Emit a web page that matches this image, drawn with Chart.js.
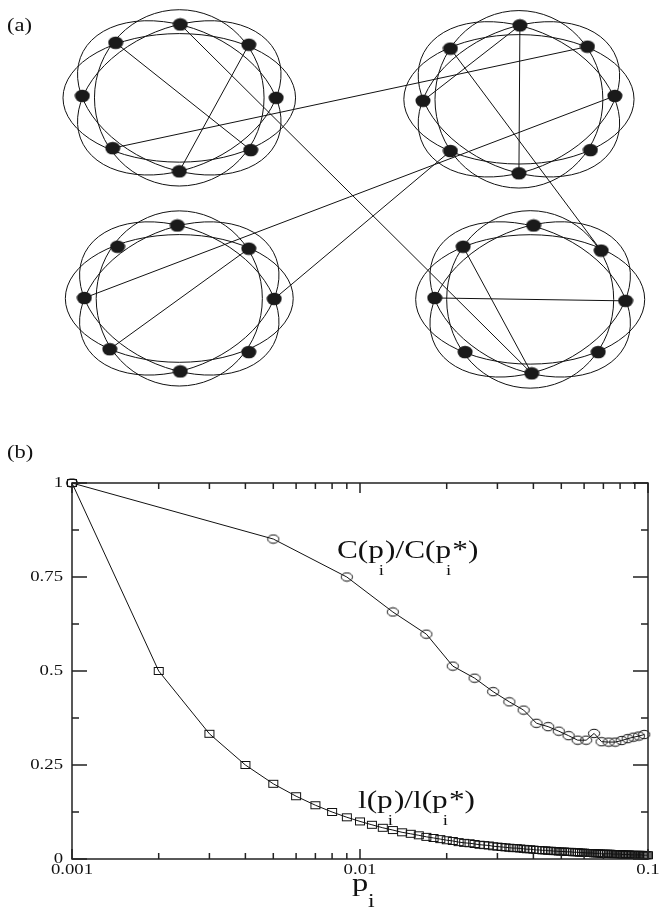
<!DOCTYPE html>
<html>
<head>
<meta charset="utf-8">
<script src="https://cdn.jsdelivr.net/npm/chart.js@4.4.1/dist/chart.umd.min.js"></script>
<style>
  html, body { margin: 0; padding: 0; background: #fff; }
  #wrap { position: relative; width: 661px; height: 911px; }
  canvas { position: absolute; left: 0; }
  #net { top: 0; }
  #plot { top: 420px; }
</style>
</head>
<body>
<div id="wrap">
  <canvas id="net" width="661" height="420"></canvas>
  <canvas id="plot" width="661" height="491"></canvas>
</div>
<script>
// ---- panel (a): the four rings, nodes listed right, UR, top, UL, left, LL, bottom, LR
const ringTL = [[275, 94], [247, 39], [177, 18], [111, 37], [77, 92], [108, 146], [176, 170], [249, 148]];
const ringTR = [[621, 92], [593, 41], [524, 19], [453, 43], [425, 97], [453, 149], [523, 172], [596, 148]];
const ringBL = [[273, 302], [247, 250], [174, 226], [113, 248], [79, 301], [105, 354], [177, 377], [247, 357]];
const ringBR = [[632, 304], [607, 252], [538, 226], [466, 248], [437, 301], [468, 357], [536, 379], [604, 357]];
const rings = [ringTL, ringTR, ringBL, ringBR];

// rewired links: [ring, node] -> [ring, node]
const links = [
  [[0, 3], [0, 7]], [[0, 1], [0, 6]], [[0, 2], [3, 6]], [[0, 5], [1, 1]],
  [[1, 2], [1, 6]], [[1, 2], [1, 4]], [[1, 3], [3, 1]], [[1, 0], [2, 4]], [[1, 5], [2, 0]],
  [[2, 1], [2, 5]],
  [[3, 3], [3, 6]], [[3, 4], [3, 0]]
];

// ---- panel (b)
const pC = [0.001, 0.005, 0.009, 0.013, 0.017, 0.021, 0.025, 0.029, 0.033, 0.037, 0.041, 0.045, 0.049,
  0.053, 0.057, 0.061, 0.065, 0.069, 0.073, 0.077, 0.081, 0.085, 0.089, 0.093, 0.097];
const cRatio = [1, 0.851, 0.75, 0.657, 0.598, 0.513, 0.481, 0.445, 0.418, 0.396, 0.361, 0.352, 0.340,
  0.328, 0.316, 0.316, 0.334, 0.312, 0.311, 0.311, 0.315, 0.320, 0.324, 0.327, 0.331];

const pL = [0.001, 0.002, 0.003, 0.004, 0.005, 0.006, 0.007, 0.008, 0.009, 0.010,
  0.011, 0.012, 0.013, 0.014, 0.015, 0.016, 0.017, 0.018, 0.019, 0.020,
  0.021, 0.022, 0.023, 0.024, 0.025, 0.026, 0.027, 0.028, 0.029, 0.030,
  0.031, 0.032, 0.033, 0.034, 0.035, 0.036, 0.037, 0.038, 0.039, 0.040,
  0.041, 0.042, 0.043, 0.044, 0.045, 0.046, 0.047, 0.048, 0.049, 0.050,
  0.051, 0.052, 0.053, 0.054, 0.055, 0.056, 0.057, 0.058, 0.059, 0.060,
  0.061, 0.062, 0.063, 0.064, 0.065, 0.066, 0.067, 0.068, 0.069, 0.070,
  0.071, 0.072, 0.073, 0.074, 0.075, 0.076, 0.077, 0.078, 0.079, 0.080,
  0.081, 0.082, 0.083, 0.084, 0.085, 0.086, 0.087, 0.088, 0.089, 0.090,
  0.091, 0.092, 0.093, 0.094, 0.095, 0.096, 0.097, 0.098, 0.099, 0.100];
const lRatio = [1, 0.500, 0.333, 0.250, 0.200, 0.167, 0.143, 0.125, 0.111, 0.100,
  0.091, 0.083, 0.077, 0.071, 0.067, 0.063, 0.059, 0.056, 0.053, 0.050,
  0.048, 0.045, 0.043, 0.042, 0.040, 0.038, 0.037, 0.036, 0.034, 0.033,
  0.032, 0.031, 0.030, 0.029, 0.029, 0.028, 0.027, 0.026, 0.026, 0.025,
  0.024, 0.024, 0.023, 0.023, 0.022, 0.022, 0.021, 0.021, 0.020, 0.020,
  0.020, 0.019, 0.019, 0.019, 0.018, 0.018, 0.018, 0.017, 0.017, 0.017,
  0.016, 0.016, 0.016, 0.016, 0.015, 0.015, 0.015, 0.015, 0.014, 0.014,
  0.014, 0.014, 0.014, 0.014, 0.013, 0.013, 0.013, 0.013, 0.013, 0.013,
  0.012, 0.012, 0.012, 0.012, 0.012, 0.012, 0.011, 0.011, 0.011, 0.011,
  0.011, 0.011, 0.011, 0.011, 0.011, 0.010, 0.010, 0.010, 0.010, 0.010];

const xTicks = [0.001, 0.01, 0.1];
const xTickLabels = ['0.001', '0.01', '0.1'];
const xMinor = [0.002, 0.003, 0.004, 0.005, 0.006, 0.007, 0.008, 0.009,
  0.02, 0.03, 0.04, 0.05, 0.06, 0.07, 0.08, 0.09];
const yTicks = [0, 0.25, 0.5, 0.75, 1];
const yTickLabels = ['0', '0.25', '0.5', '0.75', '1'];
const yMinor = [0.125, 0.375, 0.625, 0.875];

const SERIF = '"Liberation Serif", "Times New Roman", serif';
const SX = 1.25; // the original lettering is a bit wide

function wideText(ctx, str, x, y, size, align, base) {
  ctx.save();
  ctx.font = size + 'px ' + SERIF;
  ctx.textAlign = align;
  ctx.textBaseline = base;
  ctx.translate(x, y);
  ctx.scale(SX, 1);
  ctx.fillText(str, 0, 0);
  ctx.restore();
}

// text with subscript pieces, e.g. C(p_i)/C(p_i*)
function ratioLabel(ctx, parts, x, y) {
  ctx.save();
  ctx.translate(x, y);
  ctx.scale(SX, 1);
  ctx.textBaseline = 'alphabetic';
  ctx.textAlign = 'left';
  let cx = 0;
  parts.forEach(p => {
    if (p.sub) {
      ctx.font = '15px ' + SERIF;
      ctx.fillText(p.sub, cx - 4, 17);
      cx += 1;
    } else {
      ctx.font = '25px ' + SERIF;
      ctx.fillText(p.text, cx, 0);
      cx += ctx.measureText(p.text).width;
    }
  });
  ctx.restore();
}

function markerCanvas(w, h, draw) {
  const c = document.createElement('canvas');
  c.width = w; c.height = h;
  draw(c.getContext('2d'));
  return c;
}
const nodeMark = markerCanvas(16, 14, g => {
  g.fillStyle = '#1a1a1a';
  g.beginPath(); g.ellipse(8, 7, 7.5, 6.3, 0, 0, Math.PI * 2); g.fill();
});
const circleMark = markerCanvas(14, 11, g => {
  g.strokeStyle = '#111'; g.lineWidth = 1;
  g.beginPath(); g.ellipse(7, 5.5, 5.6, 4.2, 0, 0, Math.PI * 2); g.stroke();
});
const squareMark = markerCanvas(12, 10, g => {
  g.strokeStyle = '#111'; g.lineWidth = 1;
  g.strokeRect(1.5, 1.5, 9, 7);
});

// ---------- panel (a)
const nodeAt = ([r, n]) => ({ x: rings[r][n][0], y: rings[r][n][1] });

const ringPlugin = {
  id: 'rings',
  beforeDatasetsDraw(chart) {
    const { ctx, scales: { x, y } } = chart;
    ctx.save();
    ctx.strokeStyle = '#111';
    ctx.lineWidth = 1;
    rings.forEach(r => {
      const cx = x.getPixelForValue((r[0][0] + r[4][0]) / 2);
      const cy = y.getPixelForValue((r[2][1] + r[6][1]) / 2);
      const rx = Math.abs(x.getPixelForValue(r[0][0]) - x.getPixelForValue(r[4][0])) / 2;
      const ry = Math.abs(y.getPixelForValue(r[6][1]) - y.getPixelForValue(r[2][1])) / 2;
      // neighbour arcs drawn as four overlapping ellipses
      [0, 45, 90, 135].forEach(deg => {
        ctx.save();
        ctx.translate(cx, cy);
        ctx.scale(rx, ry);
        ctx.rotate(deg * Math.PI / 180);
        ctx.beginPath();
        ctx.ellipse(0, 0, 1.2, 0.875, 0, 0, Math.PI * 2);
        ctx.restore();
        ctx.stroke();
      });
    });
    ctx.restore();
  },
  afterDraw(chart) {
    chart.ctx.fillStyle = '#111';
    wideText(chart.ctx, '(a)', 7, 31, 18, 'left', 'alphabetic');
  }
};

new Chart(document.getElementById('net'), {
  type: 'scatter',
  data: {
    datasets: [
      {
        data: rings.flat().map(([x, y]) => ({ x, y })),
        pointStyle: nodeMark,
        pointRadius: 6
      },
      ...links.map(([a, b]) => ({
        data: [nodeAt(a), nodeAt(b)],
        showLine: true,
        pointRadius: 0,
        borderColor: '#111',
        borderWidth: 1
      }))
    ]
  },
  options: {
    responsive: false,
    animation: false,
    devicePixelRatio: 1,
    events: [],
    layout: { padding: 0 },
    plugins: { legend: { display: false }, tooltip: { enabled: false } },
    scales: {
      x: { type: 'linear', min: 0, max: 661, display: false },
      y: { type: 'linear', min: 0, max: 420, reverse: true, display: false }
    }
  },
  plugins: [ringPlugin]
});

// ---------- panel (b)
const axesPlugin = {
  id: 'boxAxes',
  afterDatasetsDraw(chart) {
    const { ctx, chartArea: a, scales: { x, y } } = chart;
    ctx.save();
    ctx.strokeStyle = '#222';
    ctx.fillStyle = '#111';
    ctx.lineWidth = 1.5;
    ctx.strokeRect(a.left, a.top, a.right - a.left, a.bottom - a.top);

    ctx.beginPath();
    const xt = (v, len) => {
      const px = x.getPixelForValue(v);
      ctx.moveTo(px, a.bottom); ctx.lineTo(px, a.bottom - len);
      ctx.moveTo(px, a.top); ctx.lineTo(px, a.top + len);
    };
    const yt = (v, len) => {
      const py = y.getPixelForValue(v);
      ctx.moveTo(a.left, py); ctx.lineTo(a.left + len, py);
      ctx.moveTo(a.right, py); ctx.lineTo(a.right - len, py);
    };
    xTicks.forEach(v => xt(v, 10));
    xMinor.forEach(v => xt(v, 6));
    yTicks.forEach(v => yt(v, 15));
    yMinor.forEach(v => yt(v, 7));
    ctx.stroke();

    yTicks.forEach((v, i) => wideText(ctx, yTickLabels[i], a.left - 9, y.getPixelForValue(v), 15, 'right', 'middle'));
    xTicks.forEach((v, i) => wideText(ctx, xTickLabels[i], x.getPixelForValue(v), a.bottom + 11, 15, 'center', 'middle'));

    // axis title p_i
    const tx = x.getPixelForValue(0.01);
    wideText(ctx, 'p', tx, a.bottom + 32, 26, 'center', 'alphabetic');
    wideText(ctx, 'i', tx + 8, a.bottom + 48, 19, 'left', 'alphabetic');

    wideText(ctx, '(b)', 7, 38, 18, 'left', 'alphabetic');

    ratioLabel(ctx, [{ text: 'C(p' }, { sub: 'i' }, { text: ')/C(p' }, { sub: 'i' }, { text: '*)' }],
      x.getPixelForValue(0.00832), y.getPixelForValue(0.80));
    ratioLabel(ctx, [{ text: 'l(p' }, { sub: 'i' }, { text: ')/l(p' }, { sub: 'i' }, { text: '*)' }],
      x.getPixelForValue(0.00984), y.getPixelForValue(0.1356));
    ctx.restore();
  }
};

new Chart(document.getElementById('plot'), {
  type: 'scatter',
  data: {
    datasets: [
      {
        label: 'C(p_i)/C(p_i*)',
        data: pC.map((p, i) => ({ x: p, y: cRatio[i] })),
        showLine: true,
        borderColor: '#111',
        borderWidth: 1,
        pointStyle: circleMark,
        pointRadius: 5,
        clip: false
      },
      {
        label: 'l(p_i)/l(p_i*)',
        data: pL.map((p, i) => ({ x: p, y: lRatio[i] })),
        showLine: true,
        borderColor: '#111',
        borderWidth: 1,
        pointStyle: squareMark,
        pointRadius: 5,
        clip: false
      }
    ]
  },
  options: {
    responsive: false,
    animation: false,
    devicePixelRatio: 1,
    events: [],
    layout: { padding: { left: 72, right: 13, top: 63, bottom: 52 } },
    plugins: { legend: { display: false }, tooltip: { enabled: false } },
    scales: {
      x: { type: 'logarithmic', min: 0.001, max: 0.1, display: false },
      y: { type: 'linear', min: 0, max: 1, display: false }
    }
  },
  plugins: [axesPlugin]
});
</script>
</body>
</html>
